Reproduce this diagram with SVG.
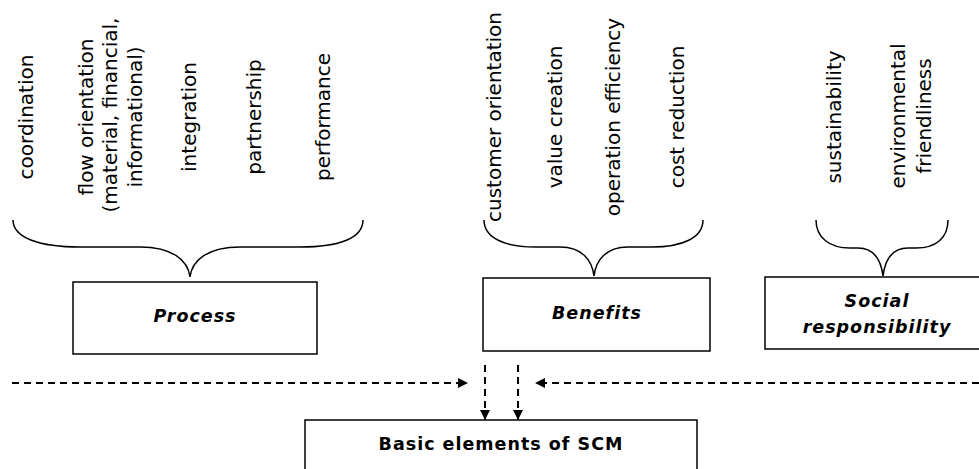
<svg xmlns="http://www.w3.org/2000/svg" width="979" height="469" viewBox="0 0 979 469">
<style>
.item{font-family:"DejaVu Sans",Verdana,sans-serif;font-size:20px;fill:#000;text-anchor:middle}
.lbl{font-family:"DejaVu Sans",Verdana,sans-serif;font-size:17.5px;font-weight:bold;font-style:italic;letter-spacing:1px;fill:#000;text-anchor:middle}
.main{font-family:"DejaVu Sans",Verdana,sans-serif;font-size:17.5px;font-weight:bold;letter-spacing:1px;fill:#000;text-anchor:middle}
.box{fill:#fff;stroke:#000;stroke-width:1.5}
.brace{fill:none;stroke:#000;stroke-width:1.5}
.dash{fill:none;stroke:#000;stroke-width:2;stroke-dasharray:7,5}
</style>
<defs>
<marker id="ah" viewBox="0 0 10 10" refX="10" refY="5" markerWidth="10" markerHeight="10" markerUnits="userSpaceOnUse" orient="auto">
<path d="M0,0 L10,5 L0,10 z" fill="#000"/>
</marker>
</defs>
<rect width="979" height="469" fill="#fff"/>

<g id="process-items">
<text class="item" transform="translate(33,117) rotate(-90)">coordination</text>
<text class="item" transform="translate(93,117) rotate(-90)">flow orientation</text>
<text class="item" transform="translate(117,115) rotate(-90)">(material, financial,</text>
<text class="item" transform="translate(142,117) rotate(-90)">informational)</text>
<text class="item" transform="translate(196,117) rotate(-90)">integration</text>
<text class="item" transform="translate(261,117) rotate(-90)">partnership</text>
<text class="item" transform="translate(330,117) rotate(-90)">performance</text>
<path class="brace" d="M13,220 C13,238 40,247 80,247 L140,247 C172,247 188,260 190,277 C192,260 208,247 240,247 L300,247 C340,247 363,238 363,220"/>
</g>

<g id="benefits-items">
<text class="item" transform="translate(501,117) rotate(-90)">customer orientation</text>
<text class="item" transform="translate(562,117) rotate(-90)">value creation</text>
<text class="item" transform="translate(620,117) rotate(-90)">operation efficiency</text>
<text class="item" transform="translate(684,117) rotate(-90)">cost reduction</text>
<path class="brace" d="M484,220 C484,238 505,247 535,247 L560,247 C582,247 592,260 594,276 C596,260 606,247 628,247 L652,247 C682,247 703,238 703,220"/>
</g>

<g id="social-items">
<text class="item" transform="translate(841,117) rotate(-90)">sustainability</text>
<text class="item" transform="translate(905,116) rotate(-90)">environmental</text>
<text class="item" transform="translate(931,116) rotate(-90)">friendliness</text>
<path class="brace" d="M816,220 C816,238 830,248 850,248 L858,248 C874,248 881,260 883,276 C885,260 892,248 908,248 L916,248 C936,248 948,238 948,220"/>
</g>

<g id="process">
<rect class="box" x="73" y="282" width="244" height="72"/>
<text class="lbl" x="195" y="322">Process</text>
</g>

<g id="benefits">
<rect class="box" x="483" y="278" width="227" height="73"/>
<text class="lbl" x="597" y="319">Benefits</text>
</g>

<g id="social">
<rect class="box" x="765" y="277" width="224" height="72"/>
<text class="lbl" x="877" y="307">Social</text>
<text class="lbl" x="877" y="333">responsibility</text>
</g>

<g id="basic">
<rect class="box" x="305" y="420" width="392" height="60"/>
<text class="main" x="501" y="450">Basic elements of SCM</text>
</g>

<g id="connectors">
<line class="dash" x1="12" y1="383" x2="468" y2="383" marker-end="url(#ah)"/>
<line class="dash" x1="979" y1="383" x2="535" y2="383" marker-end="url(#ah)"/>
<line class="dash" x1="485" y1="365" x2="485" y2="420" marker-end="url(#ah)"/>
<line class="dash" x1="518" y1="365" x2="518" y2="420" marker-end="url(#ah)"/>
</g>
</svg>
